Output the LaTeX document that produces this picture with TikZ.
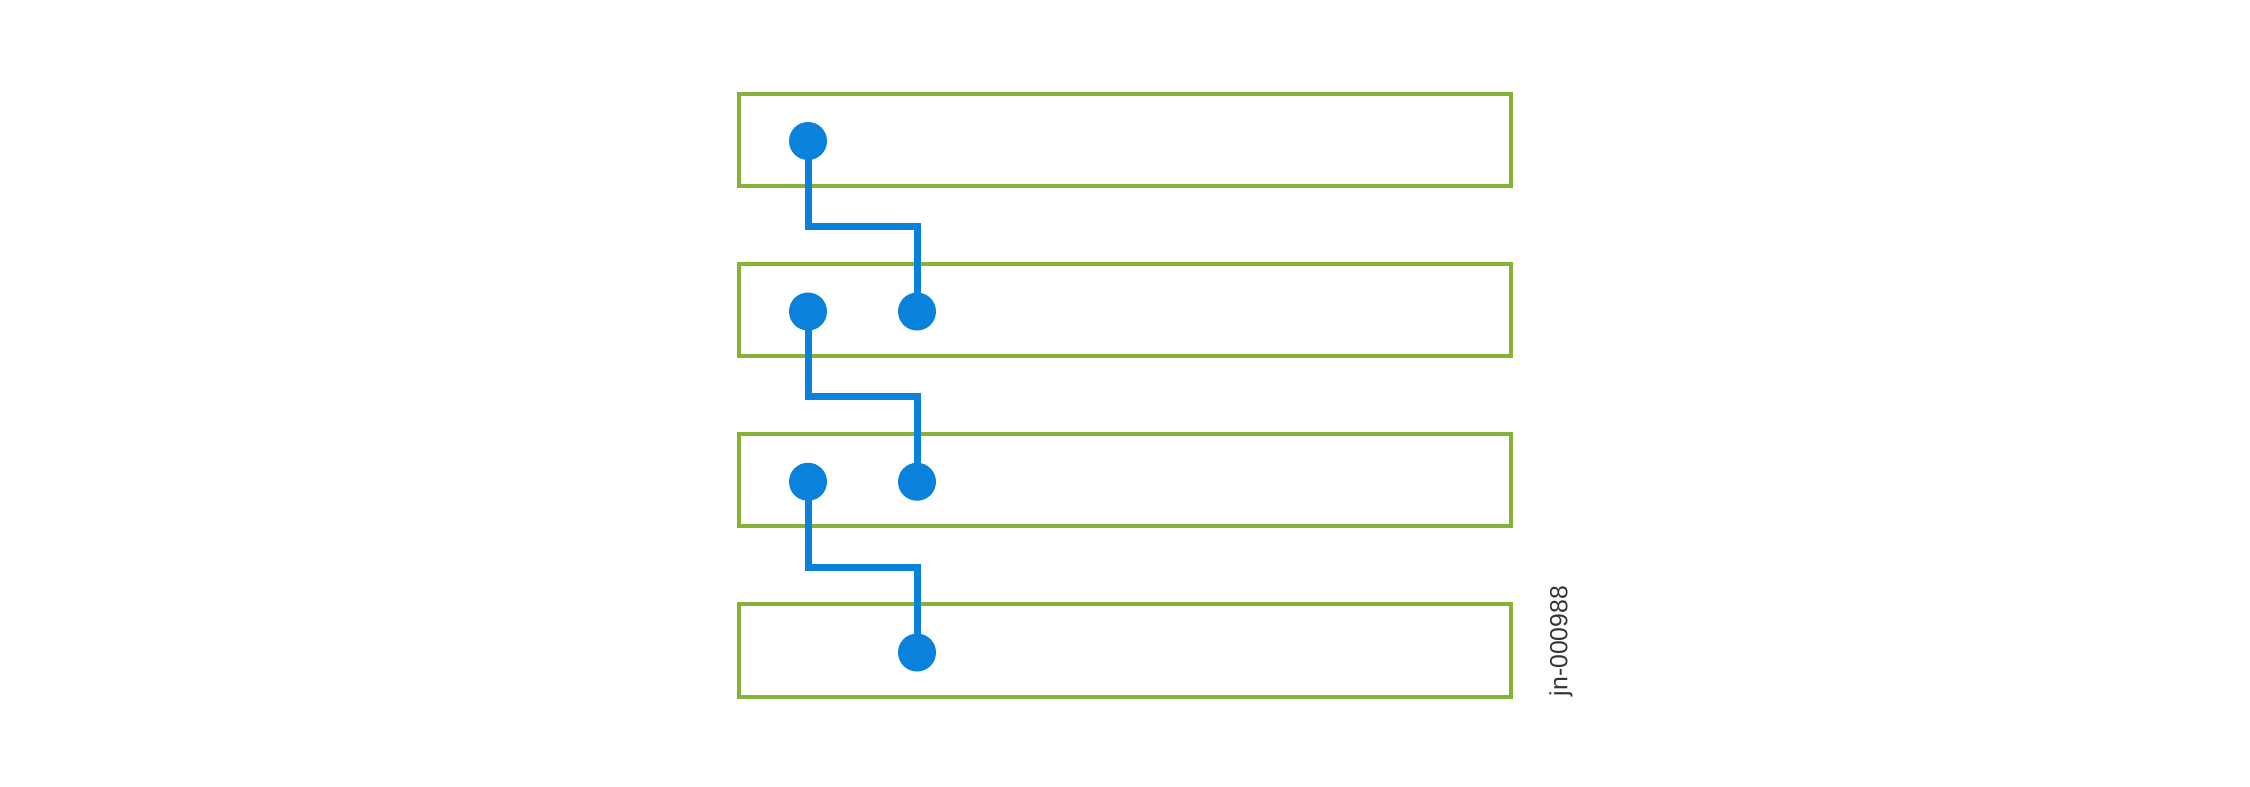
\documentclass[tikz,border=0pt]{standalone}
\usepackage{fontspec}
\setmainfont{Liberation Sans}
\usepackage{tikz}
\usetikzlibrary{positioning, calc}
\definecolor{rackgreen}{RGB}{134,178,56}
\definecolor{linkblue}{RGB}{10,130,220}
\tikzstyle{box}=[draw=rackgreen, line width=1pt, minimum width=193pt, minimum height=23.1pt, inner sep=0pt]
\tikzstyle{dot}=[circle, fill=linkblue, minimum size=9.5pt, inner sep=0pt]
\tikzstyle{link}=[draw=linkblue, line width=1.75pt]

\begin{document}
\begin{tikzpicture}[x=0.25pt,y=-0.25pt,node distance=42.56pt]
    \useasboundingbox (0,0) rectangle (2250,786);
    % members
    \node [box] (b1) at (1125,139.75) {};
    \node [box] (b2) [below of=b1] {};
    \node [box] (b3) [below of=b2] {};
    \node [box] (b4) [below of=b3] {};
    % ports
    \node [dot] (l1) at (808,141) {};
    \node [dot] (l2) at (808,311.5) {};
    \node [dot] (l3) at (808,481.75) {};
    \node [dot] (r2) at (917,311.5) {};
    \node [dot] (r3) at (917,481.75) {};
    \node [dot] (r4) at (917,652.5) {};
    \path[link] (l1.center) |- ($(l1)!0.5!(r2)$) -| (r2.center);
    \path[link] (l2.center) |- ($(l2)!0.5!(r3)$) -| (r3.center);
    \path[link] (l3.center) |- ($(l3)!0.5!(r4)$) -| (r4.center);
    \node [rotate=90, text=black!80, font=\fontsize{6.2}{7}\selectfont] (tag) at (1561,641) {jn-000988};
\end{tikzpicture}
\end{document}
